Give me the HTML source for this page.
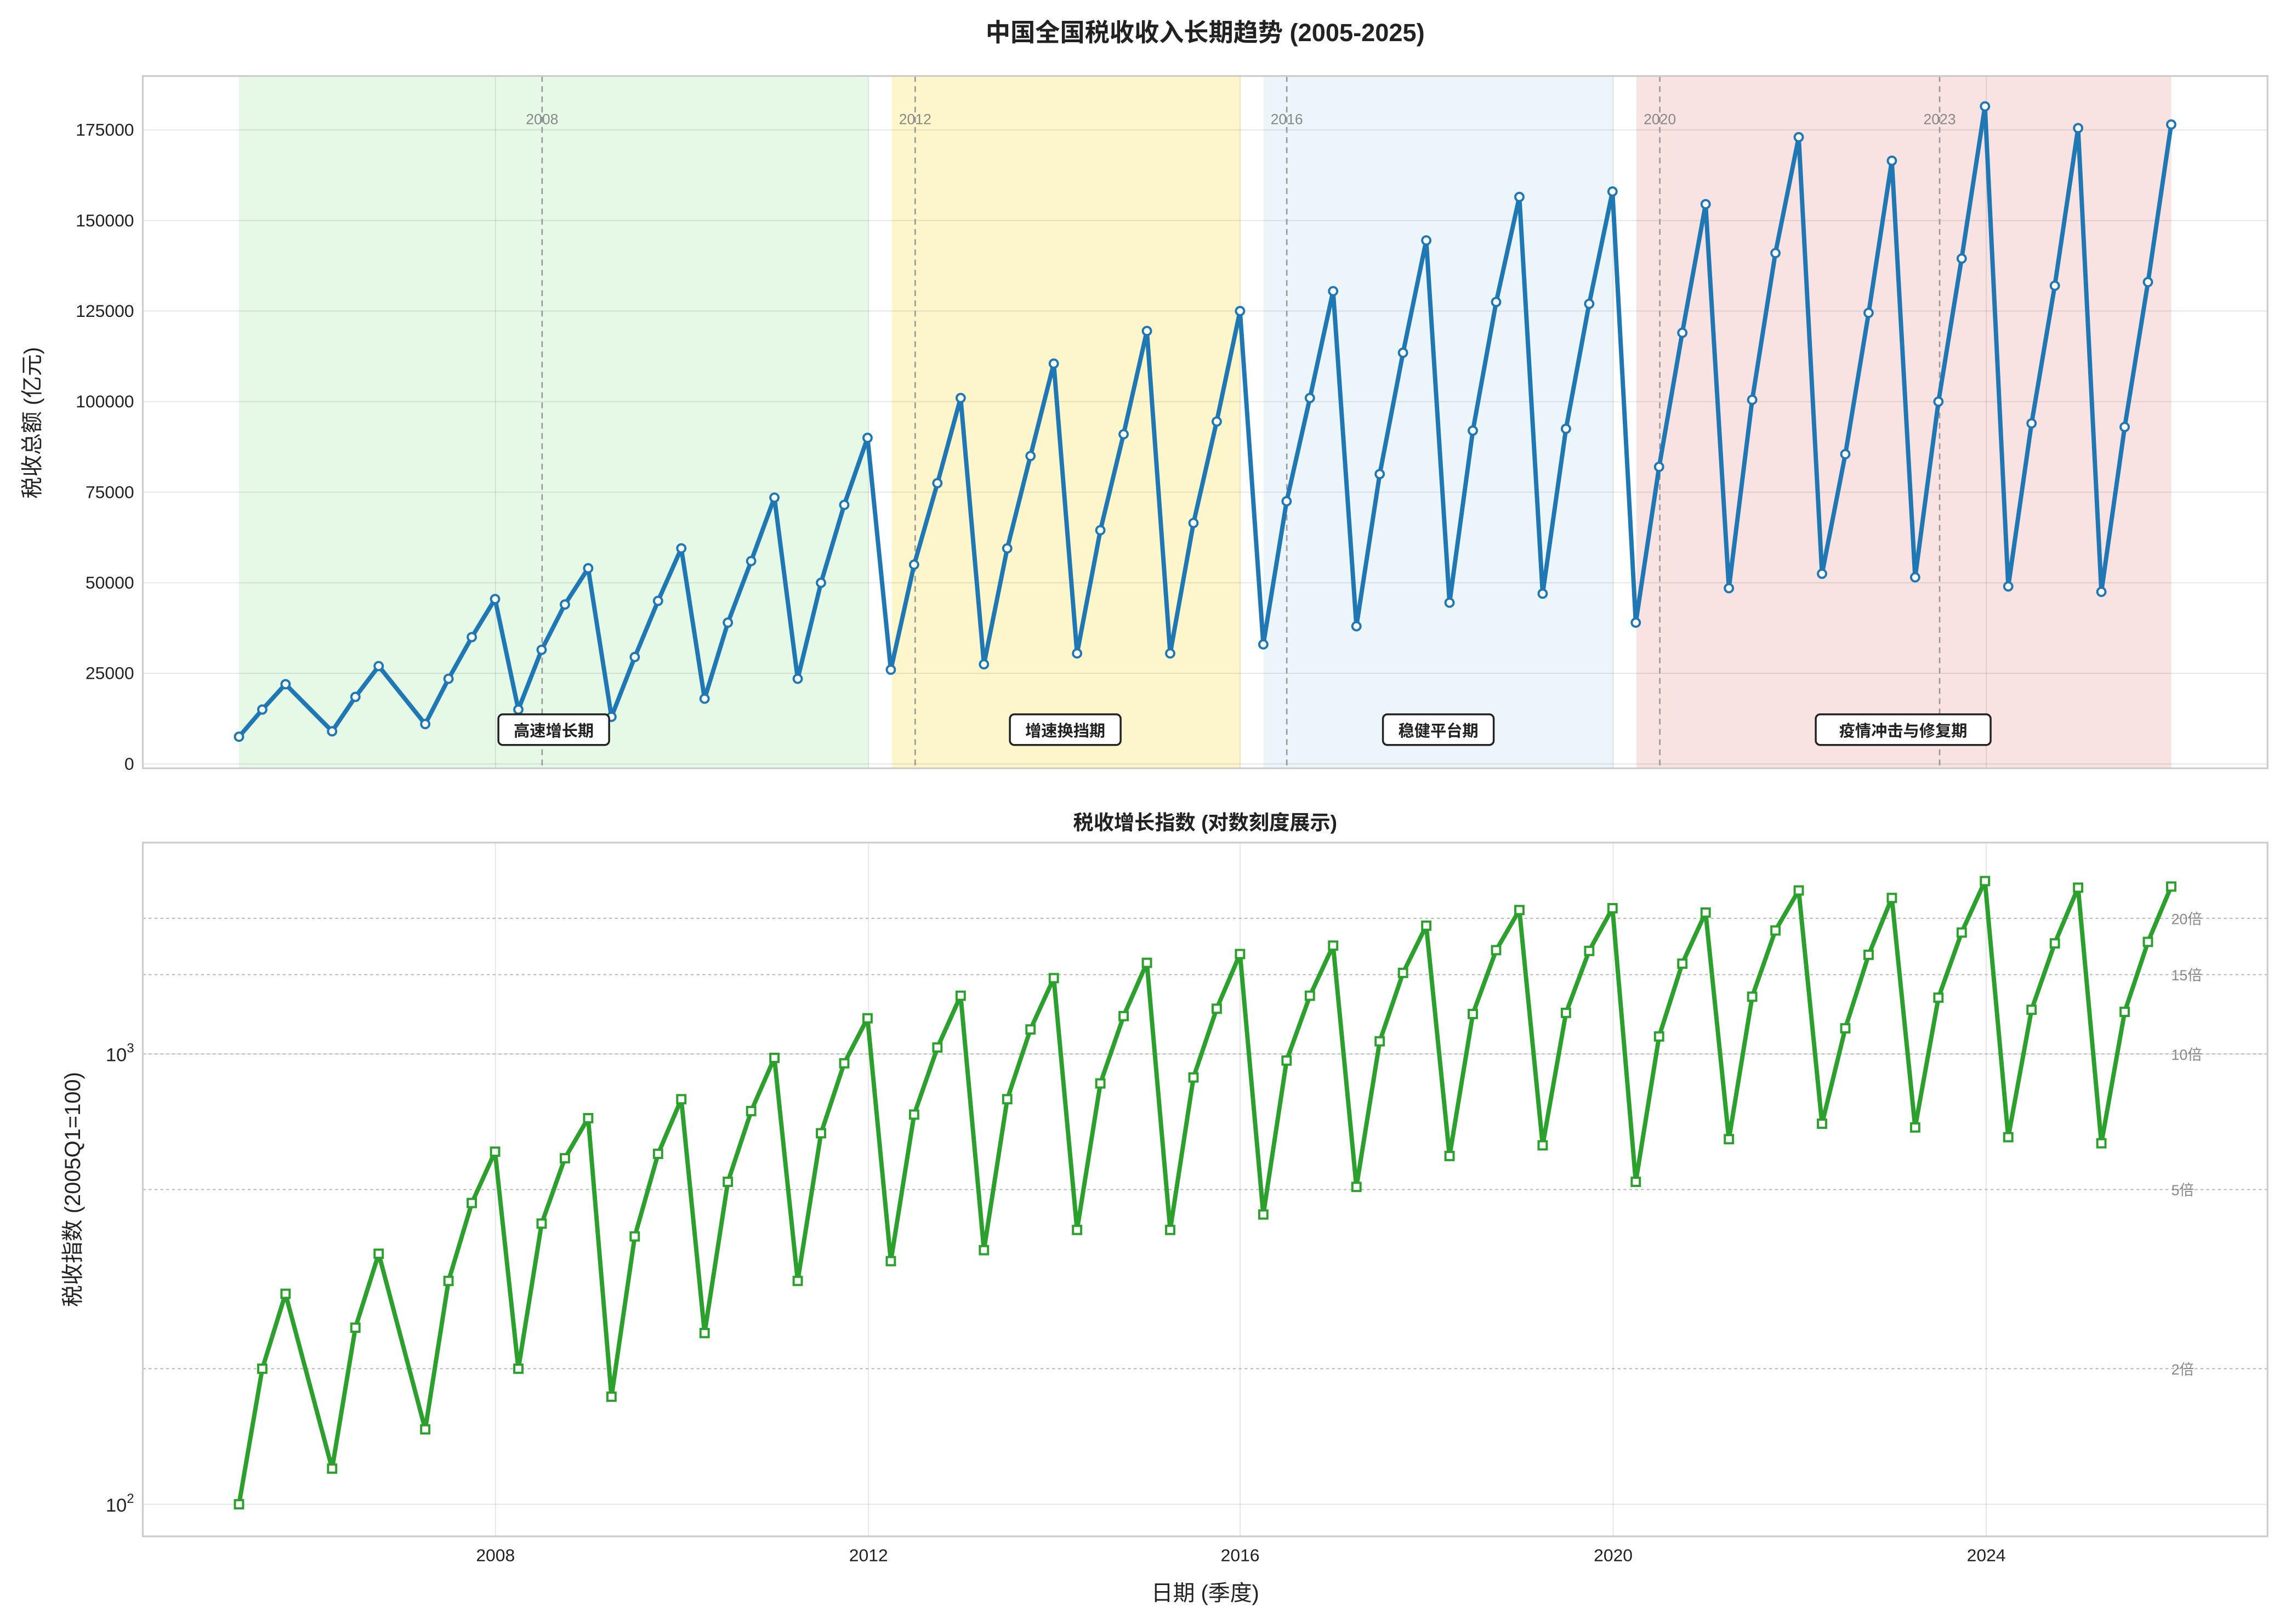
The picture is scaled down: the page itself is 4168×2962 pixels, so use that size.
<!DOCTYPE html>
<html><head><meta charset="utf-8"><style>
html,body{margin:0;padding:0;background:#fff}
svg{display:block}
text{font-family:"Liberation Sans","Noto Sans CJK SC",sans-serif}
</style></head><body>
<svg id="s" width="4168" height="2962" viewBox="0 0 1568 1114" xmlns="http://www.w3.org/2000/svg">
<rect width="1568" height="1114" fill="#fff"/>
<text x="827" y="28" text-anchor="middle" font-size="17" font-weight="bold" fill="#222">中国全国税收收入长期趋势 (2005-2025)</text>
<rect x="164" y="52" width="432" height="475" fill="#e6f9e6"/>
<rect x="612" y="52" width="239" height="475" fill="#fdf6cb"/>
<rect x="867" y="52" width="240" height="475" fill="#ecf6fa"/>
<rect x="1123" y="52" width="367" height="475" fill="#f9e2e2"/>
<g id="tgrid" stroke="#000" stroke-opacity="0.09" stroke-width="0.8"></g>
<g stroke="#999" stroke-width="1" stroke-dasharray="4,3">
<line x1="372" y1="52" x2="372" y2="527"/><line x1="628" y1="52" x2="628" y2="527"/>
<line x1="883" y1="52" x2="883" y2="527"/><line x1="1139" y1="52" x2="1139" y2="527"/>
<line x1="1331" y1="52" x2="1331" y2="527"/></g>
<g font-size="10" fill="#888" text-anchor="middle">
<text x="372" y="85">2008</text><text x="628" y="85">2012</text><text x="883" y="85">2016</text><text x="1139" y="85">2020</text><text x="1331" y="85">2023</text></g>
<path id="tline" fill="none" stroke="#1f77b4" stroke-width="3" stroke-linejoin="round"/>
<g id="tpts" fill="#fff" stroke="#1f77b4" stroke-width="1.5"></g>
<g font-size="11" font-weight="bold" fill="#222" text-anchor="middle">
<rect x="342" y="490" width="76" height="21" rx="3" fill="#fff" stroke="#222" stroke-width="1.3"/><text x="380" y="505">高速增长期</text>
<rect x="693" y="490" width="76" height="21" rx="3" fill="#fff" stroke="#222" stroke-width="1.3"/><text x="731" y="505">增速换挡期</text>
<rect x="949" y="490" width="76" height="21" rx="3" fill="#fff" stroke="#222" stroke-width="1.3"/><text x="987" y="505">稳健平台期</text>
<rect x="1246" y="490" width="120" height="21" rx="3" fill="#fff" stroke="#222" stroke-width="1.3"/><text x="1306" y="505">疫情冲击与修复期</text></g>
<rect x="98" y="52" width="1458" height="475" fill="none" stroke="#ccc" stroke-width="1.2"/>
<g id="tylab" font-size="12" fill="#222" text-anchor="end"></g>
<text transform="translate(27,290) rotate(-90)" text-anchor="middle" font-size="15" fill="#222">税收总额 (亿元)</text>
<text x="827" y="569" text-anchor="middle" font-size="14" font-weight="bold" fill="#222">税收增长指数 (对数刻度展示)</text>
<g id="bgrid" stroke="#000" stroke-opacity="0.09" stroke-width="0.8"></g>
<g id="bdot" stroke="#bbb" stroke-width="0.8" stroke-dasharray="2,2"></g>
<g id="bdl" font-size="10" fill="#888"></g>
<path id="bline" fill="none" stroke="#2ca02c" stroke-width="3" stroke-linejoin="round"/>
<g id="bpts" fill="#fff" stroke="#2ca02c" stroke-width="1.5"></g>
<rect x="98" y="578" width="1458" height="476" fill="none" stroke="#ccc" stroke-width="1.2"/>
<g font-size="13" fill="#222" text-anchor="end">
<text x="92" y="1037">10<tspan font-size="9" dy="-6">2</tspan></text>
<text x="92" y="728">10<tspan font-size="9" dy="-6">3</tspan></text></g>
<g font-size="12" fill="#222" text-anchor="middle">
<text x="340" y="1071">2008</text><text x="596" y="1071">2012</text><text x="851" y="1071">2016</text><text x="1107" y="1071">2020</text><text x="1363" y="1071">2024</text></g>
<text x="827" y="1098" text-anchor="middle" font-size="15" fill="#222">日期 (季度)</text>
<text transform="translate(55,816) rotate(-90)" text-anchor="middle" font-size="15" fill="#222">税收指数 (2005Q1=100)</text>
</svg>
<script>
var NS="http://www.w3.org/2000/svg";
function el(p,t,a,txt){var e=document.createElementNS(NS,t);for(var k in a)e.setAttribute(k,a[k]);if(txt!==undefined)e.textContent=txt;document.getElementById(p).appendChild(e);return e;}
var V=[7500,15000,22000,null,9000,18500,27000,null,11000,23500,35000,45500,15000,31500,44000,54000,13000,29500,45000,59500,18000,39000,56000,73500,23500,50000,71500,90000,26000,55000,77500,101000,27500,59500,85000,110500,30500,64500,91000,119500,30500,66500,94500,125000,33000,72500,101000,130500,38000,80000,113500,144500,44500,92000,127500,156500,47000,92500,127000,158000,39000,82000,119000,154500,48500,100500,141000,173000,52500,85500,124500,166500,51500,100000,139500,181500,49000,94000,132000,175500,47500,93000,133000,176500];
var years=[340,596,851,1107,1363];
for(var i=0;i<=7;i++){var y=524-i*62.143;el("tgrid","line",{x1:98,x2:1556,y1:y,y2:y});el("tylab","text",{x:92,y:y+4},String(i*25000));}
years.forEach(function(x){el("tgrid","line",{x1:x,x2:x,y1:52,y2:527});el("bgrid","line",{x1:x,x2:x,y1:578,y2:1054});});
[1032,723].forEach(function(y){el("bgrid","line",{x1:98,x2:1556,y1:y,y2:y});});
[[2,"2倍"],[5,"5倍"],[10,"10倍"],[15,"15倍"],[20,"20倍"]].forEach(function(m){var y=1032-309*Math.log10(m[0]);el("bdot","line",{x1:98,x2:1556,y1:y,y2:y});el("bdl","text",{x:1490,y:y+4},m[1]);});
var d1="",d2="";
for(var k=0;k<V.length;k++){if(V[k]===null)continue;var x=164+k*15.975;var y1=524-V[k]/175000*435;var y2=1032-309*Math.log10(V[k]/7500);
d1+=(d1?"L":"M")+x.toFixed(1)+","+y1.toFixed(1);d2+=(d2?"L":"M")+x.toFixed(1)+","+y2.toFixed(1);
el("tpts","circle",{cx:x,cy:y1,r:2.8});el("bpts","rect",{x:x-2.8,y:y2-2.8,width:5.6,height:5.6});}
document.getElementById("tline").setAttribute("d",d1);document.getElementById("bline").setAttribute("d",d2);
</script>
</body></html>
